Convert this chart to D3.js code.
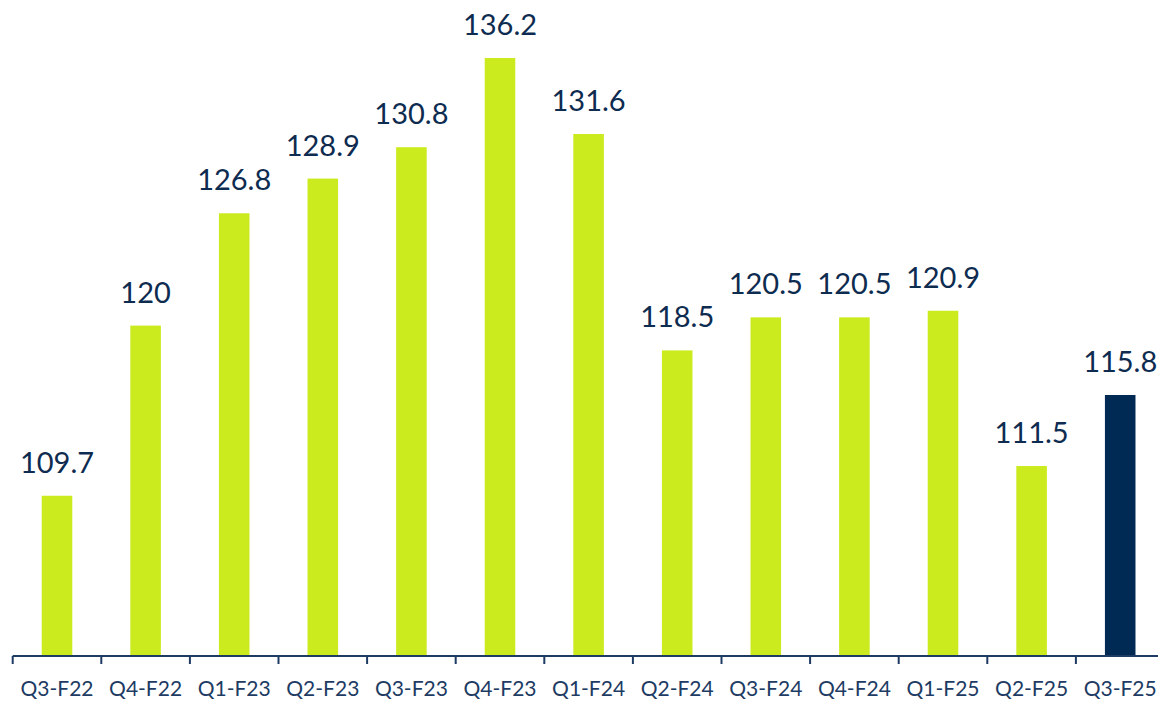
<!DOCTYPE html>
<html>
<head>
<meta charset="utf-8">
<script src="https://cdn.jsdelivr.net/npm/d3@7"></script>
<style>
  body { margin: 0; background: #fff; }
  svg { display: block; }
</style>
</head>
<body>
<div id="chart"></div>
<script>
var quarters = ["Q3-F22", "Q4-F22", "Q1-F23", "Q2-F23", "Q3-F23", "Q4-F23", "Q1-F24",
                "Q2-F24", "Q3-F24", "Q4-F24", "Q1-F25", "Q2-F25", "Q3-F25"]
var values = [109.7, 120, 126.8, 128.9, 130.8, 136.2, 131.6, 118.5, 120.5, 120.5, 120.9, 111.5, 115.8]
var labels = ["109.7", "120", "126.8", "128.9", "130.8", "136.2", "131.6", "118.5", "120.5", "120.5", "120.9", "111.5", "115.8"]

var width = 1158, height = 701
var axisY = 656

var data = quarters.map(function(q, i) { return {q: q, v: values[i], label: labels[i]} })

var svg = d3.select("#chart")
  .append("svg")
    .attr("width", width)
    .attr("height", height)

var x = d3.scaleBand()
  .domain(quarters)
  .range([12.7, 12.7 + 13 * 88.6])
  .paddingInner(0.655)
  .paddingOuter(0.3275)

var y = d3.scaleLinear()
  .domain([100, 136.2])
  .range([axisY, 58])

// bars
svg.selectAll(".bar")
  .data(data)
  .enter()
  .append("rect")
    .attr("class", "bar")
    .attr("x", function(d) { return x(d.q) })
    .attr("y", function(d) { return y(d.v) })
    .attr("width", x.bandwidth())
    .attr("height", function(d) { return axisY - y(d.v) })
    .attr("fill", function(d, i) { return i == data.length - 1 ? "#002a54" : "#cbeb1f" })

// value labels
svg.selectAll(".val")
  .data(data)
  .enter()
  .append("text")
    .attr("class", "val")
    .attr("x", function(d) { return x(d.q) + x.bandwidth() / 2 })
    .attr("y", function(d) { return y(d.v) - 23 })
    .attr("text-anchor", "middle")
    .attr("font-family", "Lato, sans-serif")
    .attr("font-size", 29)
    .attr("fill", "#0e2b50")
    .text(function(d) { return d.label })

// x axis with ticks between bands
var axisG = svg.append("g")
  .attr("transform", "translate(0," + axisY + ")")

axisG.append("line")
  .attr("x1", x.range()[0])
  .attr("x2", x.range()[1])
  .attr("stroke", "#1d3b63")
  .attr("stroke-width", 2)

var step = x.step()
axisG.selectAll(".tick")
  .data(quarters)
  .enter()
  .append("line")
    .attr("class", "tick")
    .attr("x1", function(d) { return x(d) - x.paddingOuter() * step })
    .attr("x2", function(d) { return x(d) - x.paddingOuter() * step })
    .attr("y1", 0)
    .attr("y2", 8)
    .attr("stroke", "#1d3b63")
    .attr("stroke-width", 2)

axisG.selectAll(".tl")
  .data(quarters)
  .enter()
  .append("text")
    .attr("class", "tl")
    .attr("x", function(d) { return x(d) + x.bandwidth() / 2 })
    .attr("y", 40)
    .attr("text-anchor", "middle")
    .attr("font-family", "Lato, sans-serif")
    .attr("font-size", 21)
    .attr("fill", "#1d3b63")
    .text(function(d) { return d })
</script>
</body>
</html>
